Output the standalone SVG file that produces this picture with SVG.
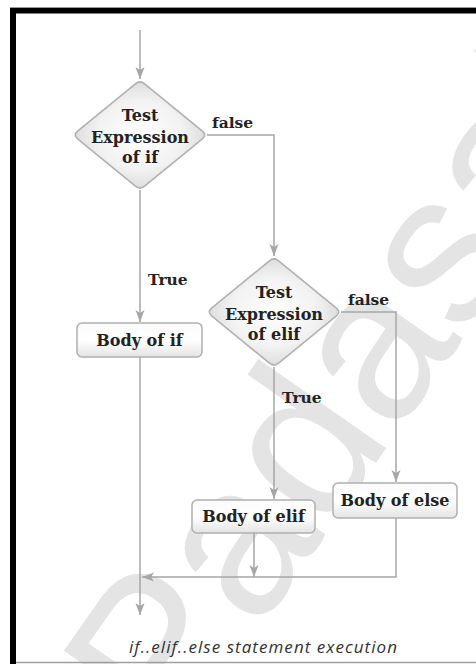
<svg xmlns="http://www.w3.org/2000/svg" width="476" height="664" viewBox="0 0 476 664">
  <style>
    .node-text { font-family: "DejaVu Serif", "Liberation Serif", serif; font-weight: bold; font-size: 16px; fill: #222; text-anchor: middle; }
    .label { font-family: "DejaVu Serif", "Liberation Serif", serif; font-weight: bold; font-size: 15.5px; fill: #222; }
    .caption { font-family: "Open Sans", "Liberation Sans", sans-serif; font-style: italic; font-size: 17px; fill: #333; text-anchor: middle; }
    .diamond { fill: url(#dgrad); stroke: #b0b0b0; stroke-width: 1.5; }
    .box { fill: url(#bgrad); stroke: #b0b0b0; stroke-width: 1.5; }
    .conn { fill: none; stroke: #a6a6a6; stroke-width: 1.5; }
    .watermark { font-family: "Liberation Sans", Arial, sans-serif; font-size: 215px; fill: #e4e4e4; }
  </style>
  <defs>
    <radialGradient id="dgrad" cx="50%" cy="50%" r="60%">
      <stop offset="0" stop-color="#ffffff"/>
      <stop offset="0.55" stop-color="#f2f2f2"/>
      <stop offset="1" stop-color="#d2d2d2"/>
    </radialGradient>
    <linearGradient id="bgrad" x1="0" y1="0" x2="0" y2="1">
      <stop offset="0" stop-color="#fbfbfb"/>
      <stop offset="0.5" stop-color="#ffffff"/>
      <stop offset="1" stop-color="#e4e4e4"/>
    </linearGradient>
    <marker id="arrow" markerUnits="userSpaceOnUse" markerWidth="14" markerHeight="10" refX="12" refY="5" orient="auto">
      <path d="M0,0.5 L12,5 L0,9.5 L3,5 Z" fill="#a6a6a6"/>
    </marker>
    <path id="dshape" d="M 4.6,-51.2 L 62.4,-3.8 Q 67,0 62.4,3.8 L 4.6,51.2 Q 0,55 -4.6,51.2 L -62.4,3.8 Q -67,0 -62.4,-3.8 L -4.6,-51.2 Q 0,-55 4.6,-51.2 Z"/>
  </defs>

  <rect x="0" y="0" width="476" height="664" fill="#ffffff"/>

  <text class="watermark" transform="translate(175,750) rotate(-55)">Padasalai</text>

  <g id="frame">
    <line x1="10" y1="7.5" x2="476" y2="7.5" stroke="#9a9a9a" stroke-width="1"/>
    <rect x="10" y="8" width="466" height="5.5" fill="#000"/>
    <rect x="10" y="8" width="6" height="656" fill="#000"/>
    <line x1="16" y1="662.5" x2="476" y2="662.5" stroke="#a0a0a0" stroke-width="1.5"/>
  </g>

  <g id="connectors">
    <path class="conn" d="M140,30 V79" marker-end="url(#arrow)"/>
    <path class="conn" d="M140,190 V322" marker-end="url(#arrow)"/>
    <path class="conn" d="M140,357 V615" marker-end="url(#arrow)"/>
    <path class="conn" d="M207,135 H274 V256" marker-end="url(#arrow)"/>
    <path class="conn" d="M274,367 V499" marker-end="url(#arrow)"/>
    <path class="conn" d="M341,312 H396 V482" marker-end="url(#arrow)"/>
    <path class="conn" d="M254,533 V577" marker-end="url(#arrow)"/>
    <path class="conn" d="M396,518 V577 H142" marker-end="url(#arrow)"/>
  </g>

  <g id="labels">
    <text class="label" x="212" y="128">false</text>
    <text class="label" x="148" y="285">True</text>
    <text class="label" x="348" y="305">false</text>
    <text class="label" x="282" y="403">True</text>
  </g>

  <g id="test-if">
    <use href="#dshape" class="diamond" transform="translate(140,135)"/>
    <text class="node-text" x="140" y="121">Test</text>
    <text class="node-text" x="140" y="143">Expression</text>
    <text class="node-text" x="140" y="163">of if</text>
  </g>

  <g id="test-elif">
    <use href="#dshape" class="diamond" transform="translate(274,312)"/>
    <text class="node-text" x="274" y="298">Test</text>
    <text class="node-text" x="274" y="320">Expression</text>
    <text class="node-text" x="274" y="340">of elif</text>
  </g>

  <g id="body-if">
    <rect class="box" x="77" y="323" width="125" height="34" rx="5"/>
    <text class="node-text" x="139.5" y="346">Body of if</text>
  </g>

  <g id="body-elif">
    <rect class="box" x="192" y="500" width="123" height="33" rx="5"/>
    <text class="node-text" x="253.5" y="522">Body of elif</text>
  </g>

  <g id="body-else">
    <rect class="box" x="333" y="483" width="124" height="35" rx="5"/>
    <text class="node-text" x="395" y="506">Body of else</text>
  </g>

  <g id="caption">
    <text class="caption" x="263" y="653" textLength="268" lengthAdjust="spacing">if..elif..else statement execution</text>
  </g>
</svg>
